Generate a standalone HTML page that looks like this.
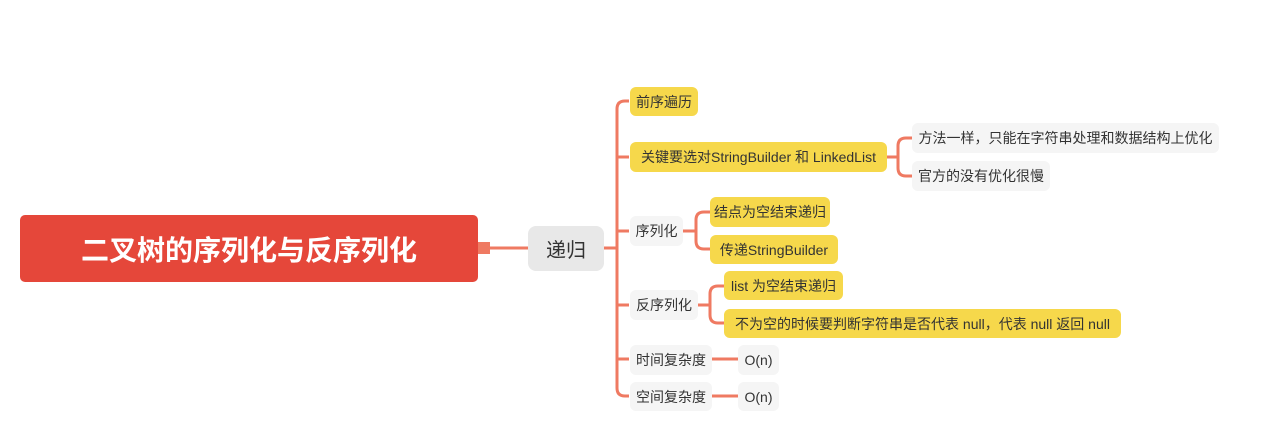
<!DOCTYPE html>
<html><head><meta charset="utf-8"><style>
body{margin:0;width:1269px;height:438px;background:#fff;position:relative;overflow:hidden;font-family:"Liberation Sans","Noto Sans CJK SC",sans-serif;}
.n{position:absolute;box-sizing:border-box;display:flex;align-items:center;justify-content:center;font-size:14px;color:#333;border-radius:6px;white-space:nowrap;}
.y{background:#F6D84B;}
.g{background:#F5F5F5;}
svg{position:absolute;left:0;top:0;}
</style></head><body>
<svg width="1269" height="438">
<g fill="none" stroke="#EF7A62" stroke-width="3">
<path d="M490 248H528"/>
<path d="M604 248H617"/>
<path d="M629 101H625Q617 101 617 109V388Q617 396 625 396H629"/>
<path d="M617 157H629M617 231H629M617 305H629M617 359H629"/>
<path d="M887 157H898M912 138H906Q898 138 898 146V168Q898 176 906 176H912"/>
<path d="M683 231H696M710 212H704Q696 212 696 220V241Q696 249 704 249H710"/>
<path d="M698 305H710M724 286H718Q710 286 710 294V315Q710 323 718 323H724"/>
<path d="M712 359H738M712 396H738"/>
</g>
<rect x="478" y="242" width="12" height="12" fill="#EF7A62"/>
</svg>
<div class="n" style="left:20px;top:215px;width:458px;height:67px;background:#E5473A;color:#fff;font-size:28px;font-weight:bold;border-radius:5px;">二叉树的序列化与反序列化</div>
<div class="n" style="left:528px;top:226px;width:76px;height:45px;background:#E8E8E8;font-size:20px;border-radius:8px;">递归</div>
<div class="n y" style="left:630px;top:87px;width:68px;height:29px;">前序遍历</div>
<div class="n y" style="left:630px;top:142px;width:257px;height:30px;">关键要选对StringBuilder 和 LinkedList</div>
<div class="n g" style="left:630px;top:216px;width:53px;height:30px;">序列化</div>
<div class="n g" style="left:630px;top:290px;width:68px;height:30px;">反序列化</div>
<div class="n g" style="left:630px;top:345px;width:82px;height:30px;">时间复杂度</div>
<div class="n g" style="left:630px;top:382px;width:82px;height:29px;">空间复杂度</div>
<div class="n g" style="left:738px;top:345px;width:41px;height:30px;">O(n)</div>
<div class="n g" style="left:738px;top:382px;width:41px;height:29px;">O(n)</div>
<div class="n g" style="left:912px;top:123px;width:307px;height:30px;">方法一样，只能在字符串处理和数据结构上优化</div>
<div class="n g" style="left:912px;top:161px;width:138px;height:30px;">官方的没有优化很慢</div>
<div class="n y" style="left:710px;top:197px;width:120px;height:30px;">结点为空结束递归</div>
<div class="n y" style="left:710px;top:235px;width:128px;height:29px;">传递StringBuilder</div>
<div class="n y" style="left:724px;top:271px;width:119px;height:29px;">list 为空结束递归</div>
<div class="n y" style="left:724px;top:309px;width:397px;height:29px;">不为空的时候要判断字符串是否代表 null，代表 null 返回 null</div>
</body></html>
